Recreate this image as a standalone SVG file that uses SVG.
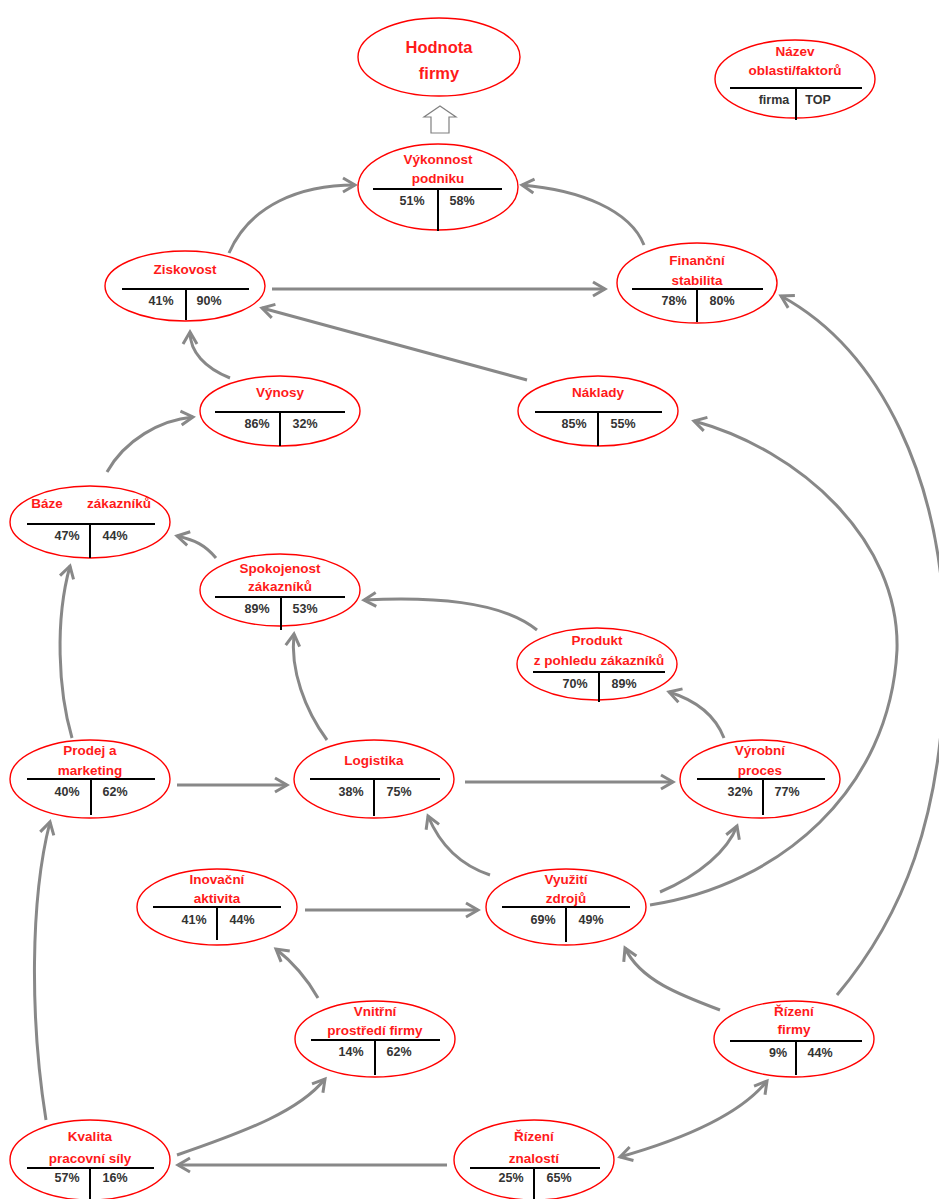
<svg xmlns="http://www.w3.org/2000/svg" width="939" height="1199" viewBox="0 0 939 1199">
  <style>
    .oval { fill: #ffffff; stroke: #ff0000; stroke-width: 1.4; }
    .name { font-family: "Liberation Sans", Arial, sans-serif; font-weight: bold; font-size: 13.5px; fill: #ff1a1a; text-anchor: middle; }
    .big { font-size: 16.5px; }
    .val { font-family: "Liberation Sans", Arial, sans-serif; font-weight: bold; font-size: 12.5px; fill: #333333; text-anchor: middle; }
    .rule { stroke: #000000; stroke-width: 2; fill: none; }
    .link { fill: none; stroke: #888888; stroke-width: 3; }
  </style>
  <defs>
    <marker id="head" markerUnits="userSpaceOnUse" markerWidth="18" markerHeight="18" refX="13" refY="8" orient="auto-start-reverse" viewBox="0 0 18 16">
      <path d="M1,1 L13,8 L1,15" fill="none" stroke="#888888" stroke-width="3" stroke-linejoin="miter"/>
    </marker>
  </defs>
  <rect width="939" height="1199" fill="#ffffff"/>

  <!-- connectors -->
  <g id="connectors">
    <polygon points="440,106 456,117 449,117 449,133 431,133 431,117 424,117" fill="#ffffff" stroke="#808080" stroke-width="1.2"/>
    <path class="link" marker-end="url(#head)" d="M229,253 C250,205 300,185 355,185"/>
    <path class="link" marker-end="url(#head)" d="M644,245 C630,210 580,190 522,185"/>
    <path class="link" marker-end="url(#head)" d="M272,289 L605,289"/>
    <path class="link" marker-end="url(#head)" d="M527,380 L262,308"/>
    <path class="link" marker-end="url(#head)" d="M230,378 C205,368 190,352 190,332"/>
    <path class="link" marker-end="url(#head)" d="M107,472 C125,440 160,420 193,417"/>
    <path class="link" marker-end="url(#head)" d="M216,558 C205,545 195,540 177,536"/>
    <path class="link" marker-end="url(#head)" d="M537,630 C500,600 430,597 364,600"/>
    <path class="link" marker-end="url(#head)" d="M724,738 C715,715 695,700 669,692"/>
    <path class="link" marker-end="url(#head)" d="M72,738 C58,690 55,620 70,566"/>
    <path class="link" marker-end="url(#head)" d="M327,740 C305,710 290,670 294,634"/>
    <path class="link" marker-end="url(#head)" d="M177,785 L287,785"/>
    <path class="link" marker-end="url(#head)" d="M465,782 L673,782"/>
    <path class="link" marker-end="url(#head)" d="M490,875 C460,865 440,845 428,816"/>
    <path class="link" marker-end="url(#head)" d="M660,892 C700,875 728,850 737,826"/>
    <path class="link" marker-end="url(#head)" d="M650,905 C780,885 890,790 897,650 C900,540 800,450 694,421"/>
    <path class="link" marker-end="url(#head)" d="M837,995 C900,920 945,820 945,650 C945,480 880,350 781,296"/>
    <path class="link" marker-end="url(#head)" d="M720,1010 C680,995 640,980 625,948"/>
    <path class="link" marker-end="url(#head)" d="M318,998 C305,975 290,960 276,949"/>
    <path class="link" marker-end="url(#head)" d="M305,910 L478,910"/>
    <path class="link" marker-end="url(#head)" d="M46,1120 C30,1020 30,900 50,822"/>
    <path class="link" marker-end="url(#head)" d="M177,1155 C250,1130 300,1110 325,1079"/>
    <path class="link" marker-end="url(#head)" d="M447,1165 L178,1165"/>
    <path class="link" marker-start="url(#head)" marker-end="url(#head)" d="M620,1157 C680,1140 740,1115 767,1081"/>
  </g>

  <!-- nodes -->
  <g id="hodnota">
    <ellipse class="oval" cx="439" cy="57" rx="81" ry="39"/>
    <text class="name big" x="439" y="53">Hodnota</text>
    <text class="name big" x="439" y="79">firmy</text>
  </g>

  <g id="legenda">
    <ellipse class="oval" cx="795" cy="79" rx="80" ry="39"/>
    <text class="name" x="795" y="56">Název</text>
    <text class="name" x="795" y="75">oblasti/faktorů</text>
    <path class="rule" d="M730,88 H862 M796,88 V120"/>
    <text class="val" x="774" y="104">firma</text>
    <text class="val" x="818" y="104">TOP</text>
  </g>

  <g id="vykonnost">
    <ellipse class="oval" cx="438" cy="187" rx="80" ry="43"/>
    <text class="name" x="438" y="164">Výkonnost</text>
    <text class="name" x="438" y="183">podniku</text>
    <path class="rule" d="M373,189 H502 M438,189 V231"/>
    <text class="val" x="412" y="205">51%</text>
    <text class="val" x="462" y="205">58%</text>
  </g>

  <g id="ziskovost">
    <ellipse class="oval" cx="185" cy="286" rx="80" ry="35"/>
    <text class="name" x="185" y="274">Ziskovost</text>
    <path class="rule" d="M122,289 H249 M186,289 V320"/>
    <text class="val" x="161" y="305">41%</text>
    <text class="val" x="209" y="305">90%</text>
  </g>

  <g id="financni">
    <ellipse class="oval" cx="697" cy="283" rx="80" ry="40"/>
    <text class="name" x="697" y="265">Finanční</text>
    <text class="name" x="697" y="285">stabilita</text>
    <path class="rule" d="M632,289 H763 M697,289 V322"/>
    <text class="val" x="674" y="305">78%</text>
    <text class="val" x="722" y="305">80%</text>
  </g>

  <g id="vynosy">
    <ellipse class="oval" cx="280" cy="411" rx="80" ry="35"/>
    <text class="name" x="280" y="397">Výnosy</text>
    <path class="rule" d="M215,412 H345 M280,412 V446"/>
    <text class="val" x="257" y="428">86%</text>
    <text class="val" x="305" y="428">32%</text>
  </g>

  <g id="naklady">
    <ellipse class="oval" cx="598" cy="411" rx="80" ry="35"/>
    <text class="name" x="598" y="397">Náklady</text>
    <path class="rule" d="M535,412 H662 M598,412 V446"/>
    <text class="val" x="574" y="428">85%</text>
    <text class="val" x="623" y="428">55%</text>
  </g>

  <g id="baze">
    <ellipse class="oval" cx="90" cy="522" rx="80" ry="36"/>
    <text class="name" x="47" y="508">Báze</text>
    <text class="name" x="119" y="508">zákazníků</text>
    <path class="rule" d="M27,524 H155 M90,524 V558"/>
    <text class="val" x="67" y="540">47%</text>
    <text class="val" x="115" y="540">44%</text>
  </g>

  <g id="spokojenost">
    <ellipse class="oval" cx="280" cy="590" rx="80" ry="36"/>
    <text class="name" x="280" y="573">Spokojenost</text>
    <text class="name" x="280" y="591">zákazníků</text>
    <path class="rule" d="M215,597 H345 M281,597 V630"/>
    <text class="val" x="257" y="613">89%</text>
    <text class="val" x="305" y="613">53%</text>
  </g>

  <g id="produkt">
    <ellipse class="oval" cx="597" cy="664" rx="80" ry="36"/>
    <text class="name" x="597" y="645">Produkt</text>
    <text class="name" x="599" y="665">z pohledu zákazníků</text>
    <path class="rule" d="M533,672 H665 M599,672 V702"/>
    <text class="val" x="575" y="688">70%</text>
    <text class="val" x="624" y="688">89%</text>
  </g>

  <g id="prodej">
    <ellipse class="oval" cx="90" cy="779" rx="80" ry="39"/>
    <text class="name" x="90" y="755">Prodej a</text>
    <text class="name" x="90" y="775">marketing</text>
    <path class="rule" d="M27,779 H155 M91,779 V815"/>
    <text class="val" x="67" y="796">40%</text>
    <text class="val" x="115" y="796">62%</text>
  </g>

  <g id="logistika">
    <ellipse class="oval" cx="374" cy="779" rx="80" ry="39"/>
    <text class="name" x="374" y="765">Logistika</text>
    <path class="rule" d="M310,779 H440 M374,779 V816"/>
    <text class="val" x="351" y="796">38%</text>
    <text class="val" x="399" y="796">75%</text>
  </g>

  <g id="vyrobni">
    <ellipse class="oval" cx="760" cy="779" rx="80" ry="39"/>
    <text class="name" x="760" y="755">Výrobní</text>
    <text class="name" x="760" y="775">proces</text>
    <path class="rule" d="M697,779 H825 M763,779 V815"/>
    <text class="val" x="740" y="796">32%</text>
    <text class="val" x="787" y="796">77%</text>
  </g>

  <g id="inovacni">
    <ellipse class="oval" cx="217" cy="907" rx="80" ry="38"/>
    <text class="name" x="217" y="884">Inovační</text>
    <text class="name" x="217" y="903">aktivita</text>
    <path class="rule" d="M153,907 H281 M217,907 V940"/>
    <text class="val" x="194" y="924">41%</text>
    <text class="val" x="242" y="924">44%</text>
  </g>

  <g id="vyuziti">
    <ellipse class="oval" cx="566" cy="907" rx="80" ry="38"/>
    <text class="name" x="566" y="884">Využití</text>
    <text class="name" x="566" y="903">zdrojů</text>
    <path class="rule" d="M502,907 H630 M566,907 V942"/>
    <text class="val" x="543" y="924">69%</text>
    <text class="val" x="591" y="924">49%</text>
  </g>

  <g id="vnitrni">
    <ellipse class="oval" cx="375" cy="1039" rx="80" ry="38"/>
    <text class="name" x="375" y="1016">Vnitřní</text>
    <text class="name" x="375" y="1035">prostředí firmy</text>
    <path class="rule" d="M311,1040 H440 M375,1040 V1075"/>
    <text class="val" x="351" y="1056">14%</text>
    <text class="val" x="399" y="1056">62%</text>
  </g>

  <g id="rizeni-firmy">
    <ellipse class="oval" cx="794" cy="1039" rx="80" ry="38"/>
    <text class="name" x="794" y="1016">Řízení</text>
    <text class="name" x="794" y="1034">firmy</text>
    <path class="rule" d="M730,1041 H862 M796,1041 V1075"/>
    <text class="val" x="778" y="1057">9%</text>
    <text class="val" x="820" y="1057">44%</text>
  </g>

  <g id="kvalita">
    <ellipse class="oval" cx="90" cy="1160" rx="80" ry="40"/>
    <text class="name" x="90" y="1141">Kvalita</text>
    <text class="name" x="90" y="1163">pracovní síly</text>
    <path class="rule" d="M27,1168 H154 M90,1168 V1199"/>
    <text class="val" x="67" y="1182">57%</text>
    <text class="val" x="115" y="1182">16%</text>
  </g>

  <g id="rizeni-znalosti">
    <ellipse class="oval" cx="534" cy="1160" rx="80" ry="40"/>
    <text class="name" x="534" y="1141">Řízení</text>
    <text class="name" x="534" y="1163">znalostí</text>
    <path class="rule" d="M470,1168 H600 M534,1168 V1199"/>
    <text class="val" x="511" y="1182">25%</text>
    <text class="val" x="559" y="1182">65%</text>
  </g>
</svg>
